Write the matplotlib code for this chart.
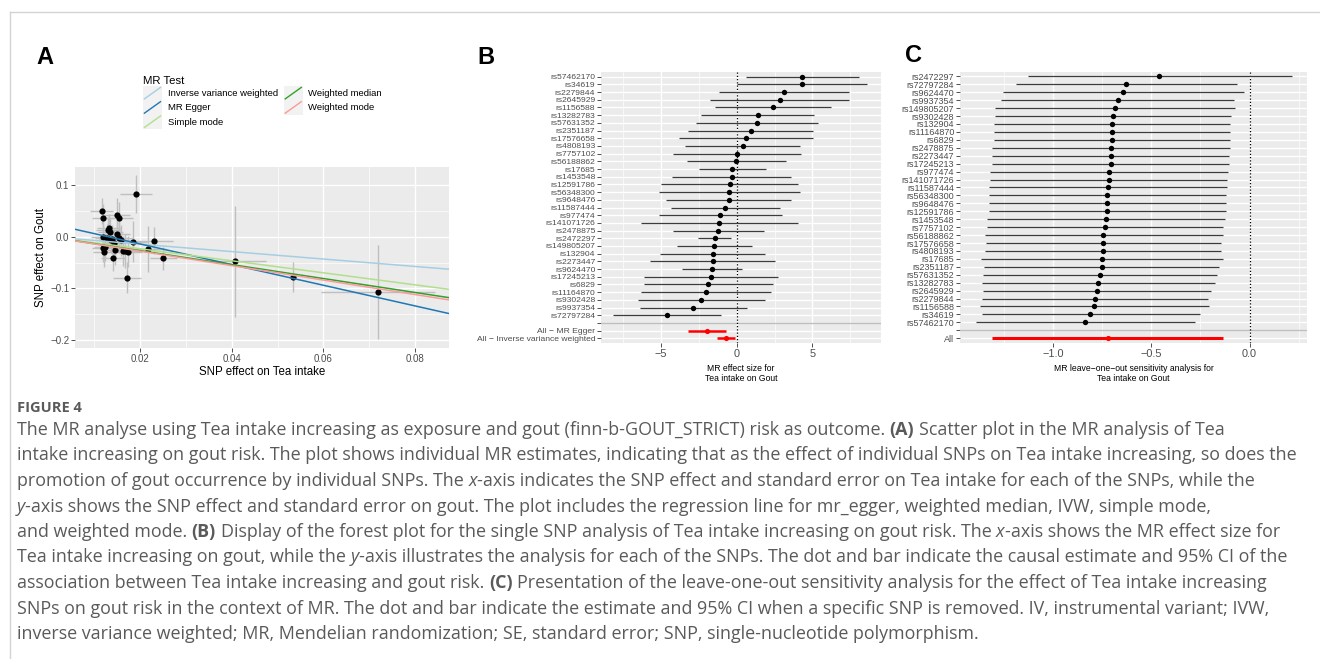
import matplotlib
matplotlib.use("Agg")
import numpy as np
import matplotlib.pyplot as plt
from matplotlib.lines import Line2D
from matplotlib.patches import Rectangle
from matplotlib.legend_handler import HandlerBase

W, H = 1320, 659
PLOTFONT = "Liberation Sans"
CAPFONT = "Open Sans"
CAPCOL = "#5a5a5a"

# ---- panel A data: SNP effects (exposure = tea intake, outcome = gout)
tea_beta = [0.0191, 0.0116, 0.0119, 0.0149, 0.0154, 0.0133, 0.0130, 0.0135,
            0.0150, 0.0155, 0.0118, 0.0127, 0.0138, 0.0159, 0.0184, 0.0231,
            0.0119, 0.0122, 0.0145, 0.0167, 0.0174, 0.0140, 0.0218, 0.0251,
            0.0171, 0.0407, 0.0533, 0.0719, 0.0124, 0.0142, 0.0136, 0.0163]
gout_beta = [0.083, 0.050, 0.037, 0.042, 0.037, 0.0174, 0.013, 0.0085,
             0.0046, -0.002, 0.000, -0.003, -0.005, -0.007, -0.0097, -0.008,
             -0.0225, -0.029, -0.0257, -0.0277, -0.029, -0.0406, -0.024, -0.042,
             -0.079, -0.0476, -0.0786, -0.108, -0.020, -0.012, -0.006, -0.028]
tea_se = [0.0034, 0.0025, 0.0025, 0.0028, 0.0030, 0.0026, 0.0026, 0.0027,
          0.0028, 0.0029, 0.0025, 0.0026, 0.0027, 0.0029, 0.0032, 0.0040,
          0.0025, 0.0025, 0.0027, 0.0030, 0.0031, 0.0026, 0.0038, 0.0030,
          0.0030, 0.0068, 0.0008, 0.0125, 0.0025, 0.0027, 0.0026, 0.0029]
gout_se = [0.037, 0.025, 0.026, 0.033, 0.030, 0.027, 0.025, 0.028,
           0.030, 0.030, 0.026, 0.027, 0.028, 0.030, 0.040, 0.026,
           0.026, 0.030, 0.030, 0.032, 0.030, 0.025, 0.045, 0.022,
           0.030, 0.108, 0.029, 0.091, 0.027, 0.026, 0.025, 0.029]

methods = ["Inverse variance weighted", "MR Egger", "Simple mode",
           "Weighted median", "Weighted mode"]
slopes = [-0.72, -2.00, -1.165, -1.35, -1.40]
intercepts = [0.0, 0.026, 0.0, 0.0, 0.0]
method_colors = ["#A6CEE3", "#1F78B4", "#B2DF8A", "#33A02C", "#FB9A99"]

# ---- panel B data: single SNP MR estimates with 95% CI
snp_b = ["rs57462170", "rs34619", "rs2279844", "rs2645929", "rs1156588",
         "rs13282783", "rs57631352", "rs2351187", "rs17576658", "rs4808193",
         "rs7757102", "rs56188862", "rs17685", "rs1453548", "rs12591786",
         "rs56348300", "rs9648476", "rs11587444", "rs977474", "rs141071726",
         "rs2478875", "rs2472297", "rs149805207", "rs132904", "rs2273447",
         "rs9624470", "rs17245213", "rs6829", "rs11164870", "rs9302428",
         "rs9937354", "rs72797284"]
b_est = [4.33, 4.33, 3.10, 2.86, 2.40, 1.41, 1.32, 0.95, 0.62, 0.40,
         0.02, -0.02, -0.29, -0.33, -0.46, -0.51, -0.53, -0.77, -1.08, -1.14,
         -1.21, -1.45, -1.47, -1.58, -1.58, -1.63, -1.67, -1.87, -2.00, -2.33,
         -2.86, -4.59]
b_lo = [0.62, 0.00, -1.14, -1.74, -1.43, -2.33, -2.68, -3.19, -3.80, -3.38,
        -4.20, -3.25, -2.51, -4.24, -4.99, -5.14, -4.66, -4.35, -5.12, -6.33,
        -4.18, -2.53, -3.96, -5.05, -5.71, -3.60, -6.11, -6.11, -6.29, -6.51,
        -6.40, -8.13]
b_hi = [8.07, 8.57, 7.41, 7.43, 6.22, 5.10, 5.34, 5.05, 5.01, 4.20,
        4.26, 3.23, 1.91, 3.58, 4.02, 4.15, 3.58, 2.84, 3.00, 4.07,
        1.78, -0.37, 1.01, 1.89, 2.55, 0.35, 2.75, 2.37, 2.26, 1.87,
        0.68, -1.05]
summary_b = ["All \u2212 MR Egger", "All \u2212 Inverse variance weighted"]
summary_b_est = [-1.98, -0.70]
summary_b_lo = [-3.21, -1.30]
summary_b_hi = [-0.73, -0.11]

# ---- panel C data: leave-one-out estimates with 95% CI
snp_c = ["rs2472297", "rs72797284", "rs9624470", "rs9937354", "rs149805207",
         "rs9302428", "rs132904", "rs11164870", "rs6829", "rs2478875",
         "rs2273447", "rs17245213", "rs977474", "rs141071726", "rs11587444",
         "rs56348300", "rs9648476", "rs12591786", "rs1453548", "rs7757102",
         "rs56188862", "rs17576658", "rs4808193", "rs17685", "rs2351187",
         "rs57631352", "rs13282783", "rs2645929", "rs2279844", "rs1156588",
         "rs34619", "rs57462170"]
c_est = [-0.459, -0.628, -0.645, -0.672, -0.684, -0.696, -0.701, -0.702,
         -0.702, -0.706, -0.707, -0.707, -0.716, -0.718, -0.721, -0.726,
         -0.728, -0.728, -0.731, -0.736, -0.745, -0.745, -0.748, -0.752,
         -0.753, -0.764, -0.770, -0.776, -0.789, -0.791, -0.811, -0.838]
c_lo = [-1.131, -1.192, -1.257, -1.265, -1.296, -1.296, -1.304, -1.303,
        -1.304, -1.315, -1.311, -1.313, -1.321, -1.321, -1.328, -1.330,
        -1.330, -1.330, -1.337, -1.340, -1.350, -1.345, -1.350, -1.367,
        -1.352, -1.359, -1.366, -1.359, -1.366, -1.372, -1.366, -1.396]
c_hi = [0.214, -0.063, -0.029, -0.078, -0.073, -0.095, -0.099, -0.100,
        -0.102, -0.097, -0.104, -0.104, -0.111, -0.114, -0.114, -0.122,
        -0.122, -0.122, -0.124, -0.133, -0.136, -0.143, -0.143, -0.134,
        -0.155, -0.165, -0.175, -0.194, -0.213, -0.206, -0.252, -0.279]
all_c_est, all_c_lo, all_c_hi = -0.724, -1.313, -0.136

caption_title = "FIGURE 4"
caption_lines = [
    [("The MR analyse using Tea intake increasing as exposure and gout (finn-b-GOUT_STRICT) risk as outcome. ", "normal", "normal"),
     ("(A)", "bold", "normal"), (" Scatter plot in the MR analysis of Tea", "normal", "normal")],
    [("intake increasing on gout risk. The plot shows individual MR estimates, indicating that as the effect of individual SNPs on Tea intake increasing, so does the", "normal", "normal")],
    [("promotion of gout occurrence by individual SNPs. The ", "normal", "normal"), ("x", "normal", "italic"),
     ("-axis indicates the SNP effect and standard error on Tea intake for each of the SNPs, while the", "normal", "normal")],
    [("y", "normal", "italic"), ("-axis shows the SNP effect and standard error on gout. The plot includes the regression line for mr_egger, weighted median, IVW, simple mode,", "normal", "normal")],
    [("and weighted mode. ", "normal", "normal"), ("(B)", "bold", "normal"),
     (" Display of the forest plot for the single SNP analysis of Tea intake increasing on gout risk. The ", "normal", "normal"),
     ("x", "normal", "italic"), ("-axis shows the MR effect size for", "normal", "normal")],
    [("Tea intake increasing on gout, while the ", "normal", "normal"), ("y", "normal", "italic"),
     ("-axis illustrates the analysis for each of the SNPs. The dot and bar indicate the causal estimate and 95% CI of the", "normal", "normal")],
    [("association between Tea intake increasing and gout risk. ", "normal", "normal"), ("(C)", "bold", "normal"),
     (" Presentation of the leave-one-out sensitivity analysis for the effect of Tea intake increasing", "normal", "normal")],
    [("SNPs on gout risk in the context of MR. The dot and bar indicate the estimate and 95% CI when a specific SNP is removed. IV, instrumental variant; IVW,", "normal", "normal")],
    [("inverse variance weighted; MR, Mendelian randomization; SE, standard error; SNP, single-nucleotide polymorphism.", "normal", "normal")],
]


def box(x0, y0, x1, y1):
    return [x0 / W, 1 - y1 / H, (x1 - x0) / W, (y1 - y0) / H]


def gg_style(ax, xmajor, xminor, ymajor, yminor):
    ax.set_facecolor("#EBEBEB")
    for s in ax.spines.values():
        s.set_visible(False)
    ax.set_xticks(xmajor)
    ax.set_xticks(xminor, minor=True)
    ax.set_yticks(ymajor)
    ax.set_yticks(yminor, minor=True)
    ax.grid(which="major", color="white", lw=1.0)
    ax.grid(which="minor", color="white", lw=0.5)
    ax.set_axisbelow(True)
    ax.tick_params(which="minor", length=0)
    ax.tick_params(which="major", length=2.6, width=0.6, color="#333333",
                   labelcolor="#4D4D4D", pad=1.5)


class DiagHandler(HandlerBase):
    def create_artists(self, legend, orig_handle, xdescent, ydescent,
                       width, height, fontsize, trans):
        bg = Rectangle((-xdescent, -ydescent), width, height,
                       facecolor="#F2F2F2", edgecolor="none", transform=trans)
        ln = Line2D([-xdescent + 1, -xdescent + width - 1],
                    [-ydescent + 1, -ydescent + height - 1],
                    color=orig_handle.get_color(), lw=1.0, transform=trans)
        return [bg, ln]


plt.rcParams["font.family"] = [PLOTFONT, "DejaVu Sans"]
fig = plt.figure(figsize=(W / 100, H / 100), dpi=100)
renderer = fig.canvas.get_renderer()

# frame of the figure page
fig.add_artist(Line2D([10 / W, 1], [1 - 12 / H, 1 - 12 / H], transform=fig.transFigure,
                      color="#D3D3D3", lw=1.0))
fig.add_artist(Line2D([10 / W, 10 / W], [0, 1 - 12 / H], transform=fig.transFigure,
                      color="#D3D3D3", lw=1.0))

# ---------------- panel A
axA = fig.add_axes(box(75, 167, 449, 348))
gg_style(axA, [0.02, 0.04, 0.06, 0.08], [0.01, 0.03, 0.05, 0.07],
         [-0.2, -0.1, 0.0, 0.1], [-0.15, -0.05, 0.05])
axA.set_xlim(0.0058, 0.0874)
axA.set_ylim(-0.2155, 0.135)
axA.errorbar(tea_beta, gout_beta, xerr=tea_se, yerr=gout_se, fmt="none",
             ecolor="#BFBFBF", elinewidth=1.0, zorder=2)
axA.scatter(tea_beta, gout_beta, s=20, c="black", zorder=3, linewidths=0)
xs = np.array(axA.get_xlim())
handles = []
for name, b, a, col in zip(methods, slopes, intercepts, method_colors):
    ln, = axA.plot(xs, a + b * xs, color=col, lw=1.1, zorder=4, label=name)
    handles.append(ln)
axA.set_xticklabels(["0.02", "0.04", "0.06", "0.08"])
axA.set_yticklabels(["\u22120.2", "\u22120.1", "0.0", "0.1"])
axA.tick_params(labelsize=7)
axA.set_xlabel("SNP effect on Tea intake", fontsize=8.3, labelpad=2)
axA.set_ylabel("SNP effect on Gout", fontsize=8.3, labelpad=2)

fig.legend(handles, methods, ncol=2, loc="upper left",
           bbox_to_anchor=(143 / W, 1 - 76 / H), title="MR Test", frameon=False,
           fontsize=6.8, title_fontsize=8.2, handlelength=2.0, handleheight=1.95,
           labelspacing=0.0, handletextpad=0.6, columnspacing=0.65,
           borderpad=0, borderaxespad=0, alignment="left",
           handler_map={Line2D: DiagHandler()})

# ---------------- panel B
axB = fig.add_axes(box(601, 72, 881, 343))
rows_b = np.arange(len(snp_b))
sum_rows_b = np.arange(len(summary_b)) + len(snp_b) + 1
gg_style(axB, [-5, 0, 5], [-7.5, -2.5, 2.5, 7.5],
         list(range(len(snp_b) + 1 + len(summary_b))), [])
axB.hlines(rows_b, b_lo, b_hi, color="#3C3C3C", lw=0.9, zorder=2)
axB.scatter(b_est, rows_b, s=15, c="black", zorder=3, linewidths=0)
axB.hlines(sum_rows_b, summary_b_lo, summary_b_hi, color="red", lw=1.8, zorder=2)
axB.scatter(summary_b_est, sum_rows_b, s=14, c="red", zorder=3, linewidths=0)
axB.axhline(len(snp_b), color="#BEBEBE", lw=1.0, zorder=1.5)
axB.axvline(0, color="black", ls=(0, (1, 1.6)), lw=0.9, zorder=1.6)
axB.set_xlim(-8.95, 9.52)
axB.set_ylim(len(snp_b) + len(summary_b) + 0.6, -0.6)
axB.set_yticklabels(snp_b + [""] + summary_b, fontsize=6.1)
axB.set_xticklabels(["\u22125", "0", "5"], fontsize=7.8)
axB.set_xlabel("MR effect size for\nTea intake on Gout", fontsize=6.2,
               linespacing=1.15, labelpad=4)

# ---------------- panel C
axC = fig.add_axes(box(960, 72, 1307, 343))
rows_c = np.arange(len(snp_c))
all_row = len(snp_c) + 1
gg_style(axC, [-1.0, -0.5, 0.0], [-1.25, -0.75, -0.25, 0.25],
         list(range(len(snp_c) + 2)), [])
axC.hlines(rows_c, c_lo, c_hi, color="#3C3C3C", lw=0.9, zorder=2)
axC.scatter(c_est, rows_c, s=15, c="black", zorder=3, linewidths=0)
axC.hlines([all_row], [all_c_lo], [all_c_hi], color="red", lw=2.2, zorder=2)
axC.scatter([all_c_est], [all_row], s=14, c="red", zorder=3, linewidths=0)
axC.axhline(len(snp_c), color="#BEBEBE", lw=1.0, zorder=1.5)
axC.axvline(0, color="black", ls=(0, (1, 1.6)), lw=0.9, zorder=1.6)
axC.set_xlim(-1.476, 0.293)
axC.set_ylim(all_row + 0.6, -0.55)
axC.set_yticklabels(snp_c + ["", "All"], fontsize=6.5)
axC.set_xticklabels(["\u22121.0", "\u22120.5", "0.0"], fontsize=7.8)
axC.set_xlabel("MR leave\u2212one\u2212out sensitivity analysis for\nTea intake on Gout",
               fontsize=6.2, linespacing=1.15, labelpad=4)

# panel letters
for lab, px, py in [("A", 36, 57), ("B", 477, 57), ("C", 905, 56)]:
    fig.text(px / W, 1 - py / H, lab, fontsize=17, fontweight="bold",
             va="center", ha="left")


# ---------------- caption
def text_width(s, size, weight="normal", style="normal"):
    t = fig.text(0, 0, s, fontsize=size, fontweight=weight, fontstyle=style,
                 family=[CAPFONT, "DejaVu Sans"])
    w = t.get_window_extent(renderer).width
    t.remove()
    return w


base = text_width(caption_lines[1][0][0], 10)
cap_size = 10 * 1286 / base
space_w = text_width("a a", cap_size) - text_width("aa", cap_size)

fig.text(17 / W, 1 - 407 / H, caption_title, fontsize=cap_size * 0.82,
         fontweight="bold", color="#5a5a5a", family=[CAPFONT, "DejaVu Sans"],
         va="center_baseline", ha="left")
y = 428
for runs in caption_lines:
    x = 17
    for s, wt, st in runs:
        lead = len(s) - len(s.lstrip(" "))
        trail = len(s) - len(s.rstrip(" "))
        x += lead * space_w
        core = s.strip(" ")
        t = fig.text(x / W, 1 - y / H, core, fontsize=cap_size, fontweight=wt,
                     fontstyle=st, color=CAPCOL, family=[CAPFONT, "DejaVu Sans"],
                     va="center_baseline", ha="left")
        x += t.get_window_extent(renderer).width + trail * space_w
    y += 25.5

fig.savefig("out.png", dpi=100)
